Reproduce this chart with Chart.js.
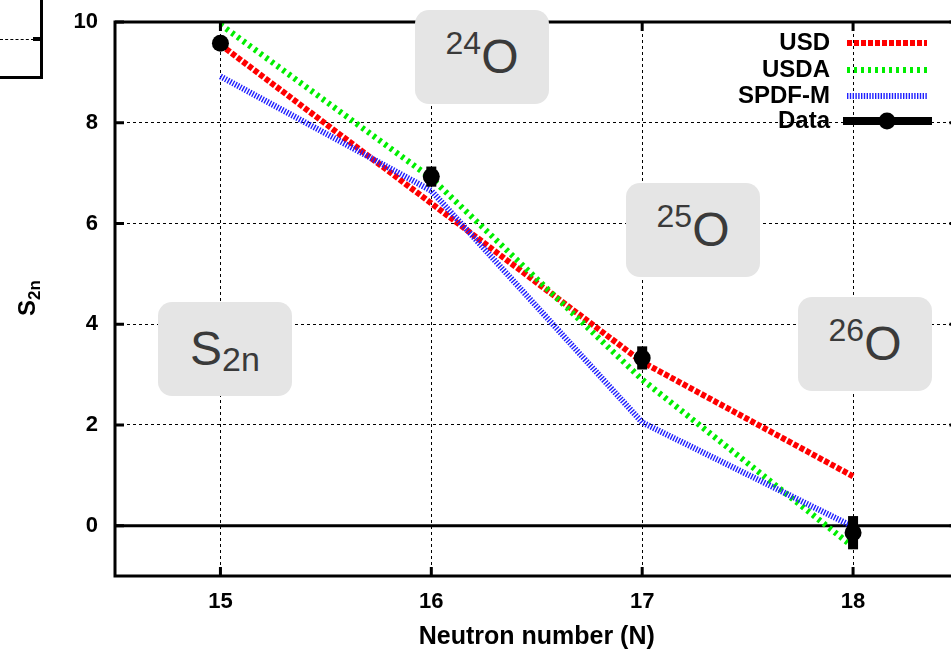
<!DOCTYPE html>
<html><head><meta charset="utf-8">
<script src="https://cdn.jsdelivr.net/npm/chart.js@4"></script>
<style>
html,body{margin:0;padding:0;width:951px;height:653px;overflow:hidden;background:#fff;font-family:"Liberation Sans",Arial,sans-serif}
#wrap{position:absolute;left:0;top:0;width:967px;height:653px}
#c{width:967px;height:653px;display:block}
.box{position:absolute;background:#e5e5e5;border-radius:14px;color:#3a3a3a;font-size:48px;display:flex;align-items:center;justify-content:center;width:134px;height:94px;line-height:1}
.box sup{font-size:32px;position:relative;top:-14px;vertical-align:baseline}
.box sub{font-size:34px;position:relative;top:10px;vertical-align:baseline}
#ytitle{position:absolute;left:27px;top:298px;transform:translate(-50%,-50%) rotate(-90deg);font-weight:bold;font-size:24px;white-space:nowrap;color:#000}
#ytitle sub{font-size:17px;position:relative;top:5px;vertical-align:baseline}
#panel{position:absolute;left:-4px;top:-4px;width:44px;height:80px;border-right:3px solid #000;border-bottom:3px solid #000}
#pgrid{position:absolute;left:0;top:39px;width:34px;border-top:1px dashed #000}
#ptick{position:absolute;left:33px;top:37px;width:8px;height:4px;background:#000}
</style></head>
<body>
<div id="wrap"><canvas id="c" width="967" height="653"></canvas></div>
<div id="panel"></div><div id="pgrid"></div><div id="ptick"></div>
<div id="ytitle">S<sub>2n</sub></div>
<div class="box" style="left:415px;top:10px"><sup>24</sup>O</div>
<div class="box" style="left:626px;top:183px"><sup>25</sup>O</div>
<div class="box" style="left:798px;top:297px"><sup>26</sup>O</div>
<div class="box" style="left:158px;top:302px">S<sub>2n</sub></div>
<script>
const categories = [15, 16, 17, 18];
const usd = [9.55, 6.4, 3.25, 0.98];
const usda = [9.95, 6.9, 2.9, -0.42];
const spdf = [8.92, 6.65, 2.05, -0.02];
const dataVals = [9.58, 6.93, 3.33, -0.14];
const dataErr = [0.12, 0.2, 0.23, 0.33];
const xTicks = [15, 16, 17, 18];
const yTicks = [0, 2, 4, 6, 8, 10];

const FONT = '"Liberation Sans", Arial, sans-serif';
const pts = arr => categories.map((x, i) => ({x: x, y: arr[i]}));

const extras = {
  id: 'extras',
  beforeDatasetsDraw(chart) {
    const {ctx, chartArea: a, scales: {x, y}} = chart;
    ctx.save();
    const y0 = y.getPixelForValue(0);
    ctx.strokeStyle = '#000'; ctx.lineWidth = 3;
    ctx.beginPath(); ctx.moveTo(a.left, y0); ctx.lineTo(a.right, y0); ctx.stroke();
    ctx.restore();
  },
  afterDatasetsDraw(chart) {
    const {ctx, chartArea: a, scales: {x, y}} = chart;
    ctx.save();
    ctx.fillStyle = '#000';
    categories.forEach((c, i) => {
      const px = x.getPixelForValue(c);
      const t = y.getPixelForValue(dataVals[i] + dataErr[i]);
      const b = y.getPixelForValue(dataVals[i] - dataErr[i]);
      ctx.fillRect(px - 5, t, 10, b - t);
    });
    ctx.strokeStyle = '#000'; ctx.lineWidth = 3;
    ctx.strokeRect(a.left, a.top, a.right - a.left, a.bottom - a.top);
    ctx.beginPath();
    xTicks.forEach(v => {
      const px = x.getPixelForValue(v);
      ctx.moveTo(px, a.bottom); ctx.lineTo(px, a.bottom - 9);
      ctx.moveTo(px, a.top); ctx.lineTo(px, a.top + 9);
    });
    yTicks.forEach(v => {
      const py = y.getPixelForValue(v);
      ctx.moveTo(a.left, py); ctx.lineTo(a.left + 9, py);
      ctx.moveTo(a.right, py); ctx.lineTo(a.right - 9, py);
    });
    ctx.stroke();
    const rows = chart.data.datasets;
    const rowY = [43, 70, 96, 121];
    ctx.font = 'bold 24px ' + FONT;
    ctx.textAlign = 'right'; ctx.textBaseline = 'middle';
    rows.forEach((ds, i) => {
      const ty = rowY[i];
      ctx.fillStyle = '#000';
      ctx.fillText(ds.label, 830, ty);
      if (ds.showLine === false) {
        ctx.fillRect(843, ty - 4, 89, 8);
        ctx.beginPath(); ctx.arc(887, ty, 8.5, 0, Math.PI * 2); ctx.fill();
      } else {
        ctx.strokeStyle = ds.borderColor; ctx.lineWidth = ds.borderWidth;
        ctx.setLineDash(ds.borderDash); ctx.lineCap = 'butt';
        ctx.beginPath(); ctx.moveTo(847, ty); ctx.lineTo(927, ty); ctx.stroke();
        ctx.setLineDash([]);
      }
    });
    ctx.restore();
  }
};

const chart = new Chart(document.getElementById('c'), {
  type: 'scatter',
  data: {
    datasets: [
      {label: 'USD', data: pts(usd), showLine: true, borderColor: '#ff0000', borderWidth: 6, borderDash: [5, 2], pointRadius: 0, order: 3, fill: false},
      {label: 'USDA', data: pts(usda), showLine: true, borderColor: '#00ee00', borderWidth: 6, borderDash: [3, 4], pointRadius: 0, order: 2, fill: false},
      {label: 'SPDF-M', data: pts(spdf), showLine: true, borderColor: '#2020ff', borderWidth: 6, borderDash: [1.4, 1.4], pointRadius: 0, order: 1, fill: false},
      {label: 'Data', data: pts(dataVals), showLine: false, backgroundColor: '#000', borderColor: '#000', pointRadius: 8.5, pointBorderWidth: 0, order: 0}
    ]
  },
  options: {
    responsive: false, animation: false,
    layout: {padding: {top: 22, left: 0, right: 3, bottom: 0}},
    plugins: {legend: {display: false}, tooltip: {enabled: false}},
    scales: {
      x: {
        type: 'linear', min: 14.5, max: 18.5,
        afterBuildTicks: s => { s.ticks = xTicks.map(v => ({value: v})); },
        afterFit: s => { s.height = 77; s.paddingLeft = 0; s.paddingRight = 0; s.paddingTop = 0; s.paddingBottom = 0; },
        grid: {color: '#000', lineWidth: 1, drawTicks: false},
        border: {display: false, dash: [3, 3]},
        ticks: {color: '#000', font: {family: FONT, size: 22, weight: 'bold'}, padding: 13},
        title: {display: true, text: 'Neutron number (N)', color: '#000', font: {family: FONT, size: 25, weight: 'bold'}, padding: {top: 2, bottom: 1}}
      },
      y: {
        min: -1, max: 10,
        afterBuildTicks: s => { s.ticks = yTicks.map(v => ({value: v})); },
        afterFit: s => { s.width = 115; s.paddingLeft = 0; s.paddingRight = 0; s.paddingTop = 0; s.paddingBottom = 0; },
        grid: {color: '#000', lineWidth: 1, drawTicks: false},
        border: {display: false, dash: [3, 3]},
        ticks: {color: '#000', font: {family: FONT, size: 22, weight: 'bold'}, padding: 17}
      }
    }
  },
  plugins: [extras]
});
</script>
</body></html>
